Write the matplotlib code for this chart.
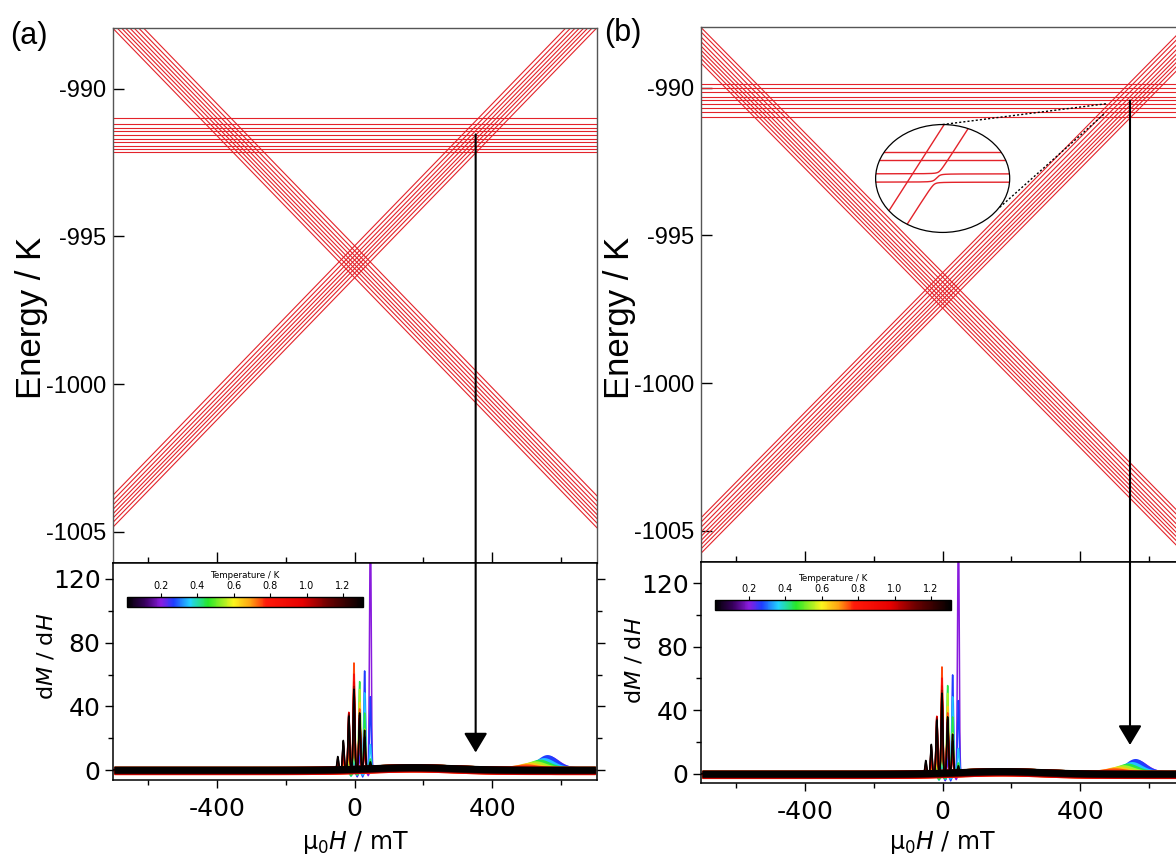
import numpy as np
import matplotlib
matplotlib.use("Agg")
import matplotlib.pyplot as plt
from matplotlib.colors import LinearSegmentedColormap, Normalize
from matplotlib.patches import Ellipse, ConnectionPatch, ArrowStyle
from matplotlib.cm import ScalarMappable
from matplotlib.ticker import MultipleLocator
from matplotlib.transforms import Affine2D

plt.rcParams["axes.unicode_minus"] = False
plt.rcParams["mathtext.fontset"] = "dejavusans"

FIG_W, FIG_H, DPI = 1176, 857, 100

# ---------------- Zeeman diagram ----------------
FIELD_LIM = (-703, 705)
ENERGY_LIM = (-1006.05, -987.95)
ENERGY_TICKS = [-1005, -1000, -995, -990]

# panel (a)
A_CROSS_E = -995.8            # K, crossing of the two diagonal manifolds at zero field
A_SLOPE = 0.0120              # K / mT
A_DIAG_OFFSETS = [-0.60, -0.44, -0.29, -0.15, 0.0, 0.15, 0.31, 0.48]
A_FLAT = [-991.0, -991.2, -991.32, -991.45, -991.58, -991.7, -991.81, -991.95, -992.06, -992.15]
A_ARROW_FIELD = 352           # mT
A_ARROW_TOP = -991.55         # K
A_ARROW_TIP = 11.0            # dM/dH units

# panel (b)
B_CROSS_E = -996.86
B_SLOPE = 0.0118
B_DIAG_OFFSETS = [-0.60, -0.45, -0.31, -0.17, -0.03, 0.12, 0.28, 0.45, 0.60]
B_FLAT = [-989.87, -990.01, -990.16, -990.33, -990.42, -990.55, -990.69, -990.83, -991.0]
B_ARROW_FIELD = 545
B_ARROW_TOP = -990.44
B_ARROW_TIP = 18.2

# magnified view of the avoided crossings, panel (b)
ZOOM_BOX = (-195, -994.9, 390, 3.65)         # field0, energy0, width, height
ZOOM_FLAT = [0.744, 0.667, 0.543, 0.466]     # level positions inside the box (0..1)
ZOOM_SLOPE = 1.94
ZOOM_DIAG_A = 0.008
ZOOM_DIAG_B = -0.378
ZOOM_GAP = 0.02
ZOOM_LINKS = [((0, -991.25), (480, -990.54)), ((166, -994.05), (471, -990.88))]

# ---------------- dM/dH sweeps ----------------
TEMPS = [0.20, 0.27, 0.35, 0.45, 0.55, 0.65, 0.75, 0.85, 0.95, 1.05, 1.15, 1.30]
PEAK_FIELDS = [-49, -33, -17, -2, 14.5, 29, 45.6]
PEAK_HEIGHTS = [
    [0, 0, 0, 3, 8, 18, 165],
    [0, 0, 0, 5, 15, 62, 45],
    [0, 0, 2, 8, 30, 48, 15],
    [0, 0, 4, 15, 55, 35, 6],
    [0, 2, 7, 28, 50, 25, 3],
    [0, 3, 12, 45, 42, 18, 0],
    [2, 6, 22, 67, 38, 14, 0],
    [3, 9, 30, 60, 34, 12, 0],
    [4, 12, 36, 55, 32, 12, 0],
    [5, 15, 35, 52, 32, 15, 0],
    [7, 17, 34, 50, 34, 20, 0],
    [8, 18, 33, 50, 35, 24, 4],
]
DIP_FIELDS = [-12, 6, 22, 38]
DIP_DEPTHS = [
    [0, -3.5, -2, -3],
    [-1.5, -3, -3.5, 0],
    [-2.5, -2, -2, 0],
    [-2, -1.5, 0, 0],
    [0, 0, 0, 0], [0, 0, 0, 0], [0, 0, 0, 0], [0, 0, 0, 0],
    [0, 0, 0, 0], [0, 0, 0, 0], [0, 0, 0, 0], [0, 0, 0, 0],
]
BUMP_FIELD = [565, 560, 550, 538, 525, 510, 500, 500, 500, 500, 500, 500]
BUMP_HEIGHT = [7.0, 7.5, 5.5, 4.5, 3.5, 2.5, 1.5, 0, 0, 0, 0, 0]
BASE_OFFSET = [0.2, 0.2, 0.1, 0.0, -0.1, -0.2, -0.3, -0.3, -0.2, -0.1, 0.0, 0.2]
SHOULDER_FIELD = 170          # broad raised background above the resonances
SHOULDER_HEIGHT = 1.6
NOISE_HALF = [1.8, 2.0, 2.2, 2.3, 2.4, 2.5, 2.6, 2.6, 2.5, 2.4, 2.3, 2.2]
A_SWEEP_LIM = (-6.28, 130.05)
B_SWEEP_LIM = (-5.7, 133.2)

# temperature colour scale
CBAR_LIM = (0.015, 1.31)
CBAR_TICKS = [0.2, 0.4, 0.6, 0.8, 1.0, 1.2]
CMAP_T = [0.015, 0.12, 0.20, 0.27, 0.36, 0.46, 0.60, 0.70, 0.78, 0.98, 1.12, 1.31]
CMAP_C = ["#000000", "#3d0066", "#8a1ce0", "#1f3dff", "#22d3ff", "#27e82a",
          "#fbf51d", "#ff9a12", "#ff1a0a", "#e60000", "#6b0000", "#000000"]

RED = "#e3232a"
TOP_FONT = "Liberation Sans"
BOT_FONT = "DejaVu Sans"


def rect(l, t, r, b):
    return [l / FIG_W, 1 - b / FIG_H, (r - l) / FIG_W, (b - t) / FIG_H]


def fpos(x, y):
    return x / FIG_W, 1 - y / FIG_H


cmap = LinearSegmentedColormap.from_list(
    "temp", [((t - CMAP_T[0]) / (CMAP_T[-1] - CMAP_T[0]), c) for t, c in zip(CMAP_T, CMAP_C)])
norm = Normalize(*CBAR_LIM)

field = np.arange(-700.0, 700.5, 0.5)


def gauss(center, width):
    return np.exp(-0.5 * ((field - center) / width) ** 2)


def background(i):
    y = np.full_like(field, BASE_OFFSET[i])
    y += SHOULDER_HEIGHT * gauss(SHOULDER_FIELD, 120.0)
    for f0, d in zip(DIP_FIELDS, DIP_DEPTHS[i]):
        y += d * gauss(f0, 4.0)
    y += BUMP_HEIGHT[i] * gauss(BUMP_FIELD[i], 28.0)
    return y


def resonances(i):
    y = np.zeros_like(field)
    for f0, h in zip(PEAK_FIELDS, PEAK_HEIGHTS[i]):
        y += h * gauss(f0, 2.3)
    return y


def draw_levels(ax, cross_e, slope, offsets, flat):
    h = np.array(FIELD_LIM)
    for off in offsets:
        ax.plot(h, cross_e + off + slope * h, color=RED, lw=0.8, zorder=2)
        ax.plot(h, cross_e + off - slope * h, color=RED, lw=0.8, zorder=2)
    for e in flat:
        ax.axhline(e, color=RED, lw=0.8, zorder=2)
    ax.set_xlim(*FIELD_LIM)
    ax.set_ylim(*ENERGY_LIM)
    ax.set_yticks(ENERGY_TICKS)
    ax.xaxis.set_major_locator(MultipleLocator(400))
    ax.xaxis.set_minor_locator(MultipleLocator(200))
    ax.tick_params(axis="y", which="major", direction="in", length=8, width=1,
                   pad=5, labelsize=17, left=True, right=False)
    ax.tick_params(axis="x", which="major", direction="in", length=8, width=1,
                   bottom=True, top=False, labelbottom=False)
    ax.tick_params(axis="x", which="minor", direction="in", length=4.5, width=1,
                   bottom=True, top=False)
    for lab in ax.get_yticklabels():
        lab.set_fontfamily(TOP_FONT)
    for side in ("top", "left", "right"):
        ax.spines[side].set_color("#555555")
        ax.spines[side].set_linewidth(1.0)
    ax.spines["bottom"].set_linewidth(1.1)


def draw_sweeps(ax, ylim):
    for i, t in enumerate(TEMPS):
        c = cmap(norm(t))
        base = background(i)
        ax.fill_between(field, base - NOISE_HALF[i], base + NOISE_HALF[i], color=c, lw=0, zorder=2)
        ax.plot(field, base + resonances(i), color=c, lw=1.1, zorder=2)
    ax.set_xlim(*FIELD_LIM)
    ax.set_ylim(*ylim)
    ax.xaxis.set_major_locator(MultipleLocator(400))
    ax.xaxis.set_minor_locator(MultipleLocator(200))
    ax.yaxis.set_major_locator(MultipleLocator(40))
    ax.yaxis.set_minor_locator(MultipleLocator(20))
    ax.tick_params(which="major", direction="out", length=6, width=1, labelsize=18,
                   left=True, right=True, bottom=True, top=False, labelright=False)
    ax.tick_params(which="minor", direction="out", length=3.5, width=1,
                   left=True, right=True, bottom=True, top=False)
    ax.tick_params(axis="x", which="major", pad=6)
    ax.tick_params(axis="y", which="major", pad=3)
    for lab in ax.get_xticklabels() + ax.get_yticklabels():
        lab.set_fontfamily(BOT_FONT)
    for sp in ax.spines.values():
        sp.set_linewidth(1.1)


def draw_colorbar(fig, box):
    cax = fig.add_axes(rect(*box))
    cb = fig.colorbar(ScalarMappable(norm=norm, cmap=cmap), cax=cax, orientation="horizontal")
    cb.set_ticks(CBAR_TICKS)
    cb.ax.set_xticklabels([f"{t:.1f}" for t in CBAR_TICKS], fontsize=7, fontfamily=BOT_FONT)
    cax.xaxis.set_ticks_position("top")
    cax.xaxis.set_label_position("top")
    cax.tick_params(length=3, width=0.8, pad=1.5)
    cax.set_xlabel("Temperature / K", fontsize=6.3, fontfamily=BOT_FONT, labelpad=2)
    cb.outline.set_linewidth(1.0)


def draw_arrow(fig, ax_top, ax_bot, h, top, tip):
    con = ConnectionPatch(xyA=(h, top), coordsA=ax_top.transData,
                          xyB=(h, tip), coordsB=ax_bot.transData,
                          arrowstyle=ArrowStyle("-|>", head_length=1.0, head_width=0.6),
                          mutation_scale=12, lw=1.5, color="black", zorder=10)
    fig.add_artist(con)


def draw_zoom(ax):
    f0, e0, w, hgt = ZOOM_BOX
    # local (0..1) coordinates of the magnified box mapped onto the energy diagram
    local = Affine2D().scale(w, hgt).translate(f0, e0) + ax.transData
    bg = Ellipse((0.5, 0.5), 1, 1, transform=local, fc="white", ec="none", zorder=4)
    ax.add_patch(bg)
    u = np.linspace(0, 1, 1201)
    lines = []
    for v in ZOOM_FLAT[:2]:
        lines += ax.plot([0, 1], [v, v], transform=local, color=RED, lw=1.0, zorder=5)
    lines += ax.plot(u, ZOOM_SLOPE * u + ZOOM_DIAG_A, transform=local, color=RED, lw=1.0, zorder=5)
    diag_b = ZOOM_SLOPE * u + ZOOM_DIAG_B
    mats = np.zeros((u.size, 3, 3))
    mats[:, 0, 0] = diag_b
    mats[:, 1, 1] = ZOOM_FLAT[2]
    mats[:, 2, 2] = ZOOM_FLAT[3]
    mats[:, 0, 1] = mats[:, 1, 0] = ZOOM_GAP
    mats[:, 0, 2] = mats[:, 2, 0] = ZOOM_GAP
    eig = np.linalg.eigvalsh(mats)
    for k in range(3):
        lines += ax.plot(u, eig[:, k], transform=local, color=RED, lw=1.0, zorder=5)
    for ln in lines:
        ln.set_clip_path(bg)
    ax.add_patch(Ellipse((0.5, 0.5), 1, 1, transform=local, fc="none",
                         ec="black", lw=0.9, zorder=6))
    for (x1, y1), (x2, y2) in ZOOM_LINKS:
        ax.plot([x1, x2], [y1, y2], color="black", lw=1.0, ls=(0, (1.5, 1.5)), zorder=6)


fig = plt.figure(figsize=(FIG_W / DPI, FIG_H / DPI), dpi=DPI)

axA_top = fig.add_axes(rect(113, 28, 597, 563))
axA_bot = fig.add_axes(rect(113, 563, 597, 780))
axB_top = fig.add_axes(rect(701, 27, 1185, 562))
axB_bot = fig.add_axes(rect(701, 562, 1185, 783))

draw_levels(axA_top, A_CROSS_E, A_SLOPE, A_DIAG_OFFSETS, A_FLAT)
draw_levels(axB_top, B_CROSS_E, B_SLOPE, B_DIAG_OFFSETS, B_FLAT)
draw_zoom(axB_top)

draw_sweeps(axA_bot, A_SWEEP_LIM)
draw_sweeps(axB_bot, B_SWEEP_LIM)
draw_colorbar(fig, (127, 597, 363, 607))
draw_colorbar(fig, (715, 600, 951, 610))

draw_arrow(fig, axA_top, axA_bot, A_ARROW_FIELD, A_ARROW_TOP, A_ARROW_TIP)
draw_arrow(fig, axB_top, axB_bot, B_ARROW_FIELD, B_ARROW_TOP, B_ARROW_TIP)

# panel labels and axis titles
for (x, y), s in [((29, 36), "(a)"), ((623, 33), "(b)")]:
    fig.text(*fpos(x, y), s, fontsize=22, fontfamily=TOP_FONT, ha="center", va="center")
for x in (31, 619):
    fig.text(*fpos(x, 318), "Energy / K", fontsize=25, fontfamily=TOP_FONT,
             rotation=90, ha="center", va="center")
for x, y in ((46, 656), (634, 660)):
    fig.text(*fpos(x, y), r"d$\mathit{M}$ / d$\mathit{H}$", fontsize=16, fontfamily=BOT_FONT,
             rotation=90, ha="center", va="center")
for x in (355, 942):
    fig.text(*fpos(x, 842), r"μ$_0$$\mathit{H}$ / mT", fontsize=17, fontfamily=BOT_FONT,
             ha="center", va="center")

fig.savefig("out.png", dpi=DPI)
